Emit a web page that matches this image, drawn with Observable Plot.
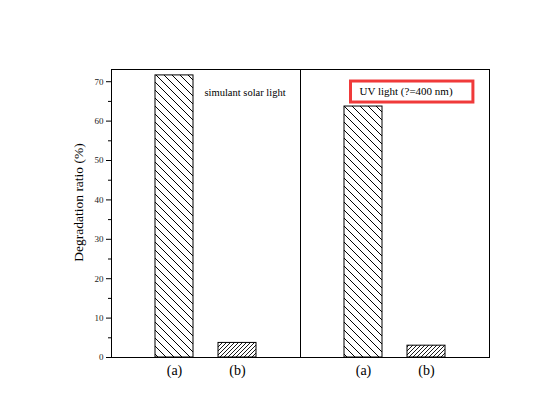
<!DOCTYPE html>
<html>
<head>
<meta charset="utf-8">
<script src="https://cdn.jsdelivr.net/npm/d3@7"></script>
<script src="https://cdn.jsdelivr.net/npm/@observablehq/plot@0.6"></script>
<style>
  html, body { margin: 0; padding: 0; background: #fff; }
  #chart svg, #chart svg text { font-family: "Liberation Serif", "Times New Roman", serif !important; }
</style>
</head>
<body>
<div id="chart"></div>
<script>
// Data
const panels = ["solar", "uv"];
const panelLabels = ["simulant solar light", "UV light (?=400 nm)"];
const samples = ["(a)", "(b)"];
const solarValues = [71.6, 3.7];
const uvValues = [63.7, 3.0];
const majorTicks = [0, 10, 20, 30, 40, 50, 60, 70];
const minorTicks = [5, 15, 25, 35, 45, 55, 65];
const yLabel = "Degradation ratio (%)";

const rows = [
  ...samples.map((s, i) => ({panel: panels[0], sample: s, value: solarValues[i]})),
  ...samples.map((s, i) => ({panel: panels[1], sample: s, value: uvValues[i]}))
];

const serif = "Liberation Serif, Times New Roman, serif";

const plot = Plot.plot({
  width: 541,
  height: 400,
  marginLeft: 110,
  marginRight: 52,
  marginTop: 69,
  marginBottom: 43,
  style: {fontFamily: serif, background: "#fff", color: "#000", overflow: "visible"},
  fx: {domain: panels, paddingInner: 0, paddingOuter: 0, axis: null},
  x: {domain: samples, paddingInner: 0.4, paddingOuter: 0.7, axis: null},
  y: {domain: [0, 73.1]},
  marks: [
    Plot.barY(rows, {
      fx: "panel", x: "sample", y: "value",
      fill: d => d.sample === "(a)" ? "url(#hatchA)" : "url(#hatchB)",
      stroke: "#000", strokeWidth: 1
    }),
    Plot.frame({stroke: "#000", strokeWidth: 1}),
    Plot.axisY({ticks: majorTicks, tickSize: 5, tickPadding: 3, label: null,
      fontSize: 9, tickFormat: d3.format("d"), stroke: "#000", fill: "#1a1a1a"}),
    Plot.axisY({ticks: minorTicks, tickSize: 3, text: null, label: null, stroke: "#000"}),
    Plot.axisX({tickSize: 0, tickPadding: 8, fontSize: 14, label: null, fill: "#000"}),
    Plot.text([{panel: panels[0], t: yLabel}], {
      fx: "panel", text: "t", frameAnchor: "left", rotate: -90, textAnchor: "middle",
      dx: -33, dy: -11, fontSize: 13.5, fill: "#000"
    }),
    Plot.text([{panel: panels[0], t: panelLabels[0]}], {
      fx: "panel", text: "t", frameAnchor: "top-left", textAnchor: "start", lineAnchor: "middle",
      dx: 93, dy: 23, fontSize: 10.5, fill: "#000"
    }),
    Plot.text([{panel: panels[1], t: panelLabels[1]}], {
      fx: "panel", text: "t", frameAnchor: "top-left", textAnchor: "start", lineAnchor: "middle",
      dx: 59, dy: 22, fontSize: 11, fill: "#000"
    })
  ]
});

// hatch patterns
const ns = "http://www.w3.org/2000/svg";
const defs = document.createElementNS(ns, "defs");
defs.innerHTML = `
  <pattern id="hatchA" patternUnits="userSpaceOnUse" width="8" height="8">
    <rect width="8" height="8" fill="#fff"/>
    <path d="M-2,-2 L10,10 M-2,6 L2,10 M6,-2 L10,2" stroke="#000" stroke-width="1"/>
  </pattern>
  <pattern id="hatchB" patternUnits="userSpaceOnUse" width="4" height="4">
    <rect width="4" height="4" fill="#fff"/>
    <path d="M-1,5 L5,-1 M-1,1 L1,-1 M3,5 L5,3" stroke="#000" stroke-width="0.9"/>
  </pattern>`;
plot.insertBefore(defs, plot.firstChild);

document.getElementById("chart").appendChild(plot);

// red box around UV label
plot.querySelectorAll("text").forEach(t => {
  if (t.textContent === panelLabels[1]) {
    const b = t.getBBox();
    const r = document.createElementNS(ns, "rect");
    r.setAttribute("x", b.x - 9);
    r.setAttribute("y", b.y + b.height / 2 - 10.5);
    r.setAttribute("width", b.width + 29);
    r.setAttribute("height", 21);
    r.setAttribute("fill", "none");
    r.setAttribute("stroke", "#f03a3a");
    r.setAttribute("stroke-width", 3);
    if (t.getAttribute("transform")) r.setAttribute("transform", t.getAttribute("transform"));
    t.parentNode.insertBefore(r, t);
  }
});
</script>
</body>
</html>
